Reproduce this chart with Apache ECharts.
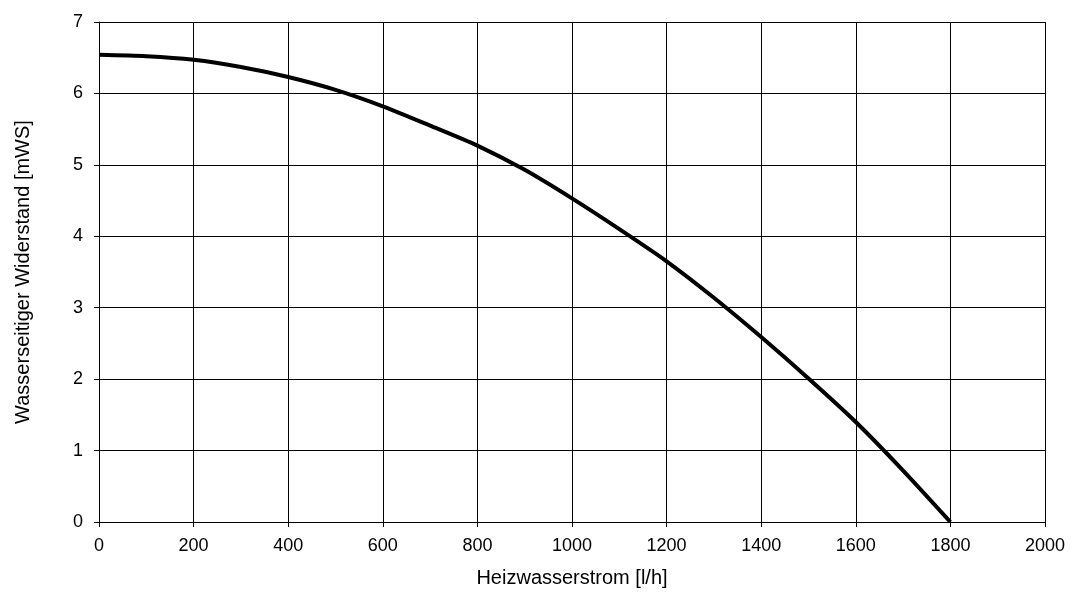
<!DOCTYPE html>
<html>
<head>
<meta charset="utf-8">
<title>Wasserseitiger Widerstand</title>
<script src="https://cdn.jsdelivr.net/npm/echarts@6/dist/echarts.min.js"></script>
<style>
  html, body { margin: 0; padding: 0; background: #fff; }
  #box { width: 1075px; height: 596px; }
</style>
</head>
<body>
<div id="box"></div>
<script>
// Heizwasserstrom [l/h]
var flow = [0, 100, 200, 300, 400, 500, 600, 700, 800, 900, 1000, 1100, 1200, 1300, 1400, 1500, 1600, 1700, 1800];
// Wasserseitiger Widerstand [mWS]
var resistance = [6.54, 6.52, 6.47, 6.37, 6.23, 6.05, 5.82, 5.55, 5.27, 4.93, 4.53, 4.10, 3.65, 3.14, 2.59, 2.01, 1.40, 0.72, 0];

var xTitle = 'Heizwasserstrom [l/h]';
var yTitle = 'Wasserseitiger Widerstand [mWS]';

var chart = echarts.init(document.getElementById('box'));
var points = flow.map(function (f, i) { return [f, resistance[i]]; });

var font = 'Liberation Sans, Arial, sans-serif';

var option = {
	animation: false,
	backgroundColor: '#fff',
	grid: {
		left: 99,
		right: 30,
		top: 22,
		bottom: 74
	},
	xAxis: {
		type: 'value',
		min: 0,
		max: 2000,
		interval: 200,
		name: xTitle,
		nameLocation: 'middle',
		nameGap: 46,
		nameTextStyle: { color: '#000', fontSize: 20, fontFamily: font },
		axisLine: { lineStyle: { color: '#000', width: 1 } },
		axisTick: { show: true, length: 5, lineStyle: { color: '#000' } },
		axisLabel: {
			color: '#000', fontSize: 18, fontFamily: font, margin: 15,
			formatter: function (v) { return String(v); }
		},
		splitLine: { show: true, lineStyle: { color: '#000', width: 1 } }
	},
	yAxis: {
		type: 'value',
		min: 0,
		max: 7,
		interval: 1,
		name: yTitle,
		nameLocation: 'middle',
		nameGap: 66,
		nameTextStyle: { color: '#000', fontSize: 20, fontFamily: font },
		axisLine: { show: true, lineStyle: { color: '#000', width: 1 } },
		axisTick: { show: true, length: 5, lineStyle: { color: '#000' } },
		axisLabel: { color: '#000', fontSize: 18, fontFamily: font, margin: 16 },
		splitLine: { show: true, lineStyle: { color: '#000', width: 1 } }
	},
	series: [{
		type: 'line',
		data: points,
		smooth: 0.25,
		showSymbol: false,
		lineStyle: { color: '#000', width: 4 }
	}]
};
chart.setOption(option);
</script>
</body>
</html>
